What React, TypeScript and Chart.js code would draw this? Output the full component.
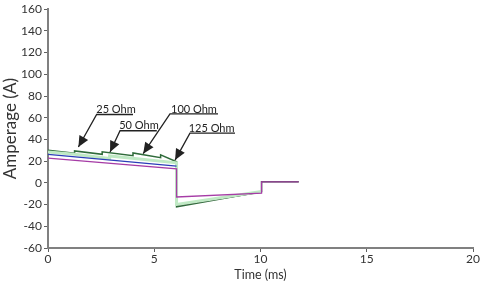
import React, { useEffect, useRef } from "react";
import { Chart, registerables } from "chart.js";

Chart.register(...registerables);

// Series (time in ms, current in A)
const ohm125T = [0, 1.25, 1.25, 2.55, 2.55, 4.0, 4.0, 5.3, 5.3, 6.05, 6.05, 10.05, 10.05, 11.8];
const ohm125A = [30, 27.2, 29.4, 26.3, 28.6, 25.0, 27.6, 23.2, 25.8, 19.5, -22, -8, 1, 1];

const paleT = [0, 1.25, 2.9, 2.9, 6.05, 6.05, 10.05];
const paleA = [28.5, 26.3, 22.5, 24.8, 18.5, -20, -8];

const blueT = [0, 6.05];
const blueA = [26.3, 15.5];

const magentaT = [0, 6.05, 6.05, 10.05, 10.05, 11.8];
const magentaA = [22.8, 13, -13, -9.5, 1, 1];

const blackT = [6.05, 6.05, 10.05];
const blackA = [18.5, -21, -8.5];

// Annotation labels: text, text position, underline range, arrow tip
const labels = ["25 Ohm", "50 Ohm", "100 Ohm", "125 Ohm"];
const labelT = [3.2, 4.28, 6.87, 7.7];
const labelA = [67.4, 53, 68, 50.3];
const lineStartT = [2.29, 3.39, 5.74, 6.68];
const lineEndT = [4.0, 5.12, 8.0, 8.8];
const lineA = [63, 48, 63.6, 45.8];
const tipT = [1.43, 2.92, 4.48, 5.98];
const tipA = [33, 28.4, 26.9, 21];

const xTicks = [0, 5, 10, 15, 20];

const pts = (t: number[], a: number[]) => t.map((x, i) => ({ x, y: a[i] }));

const FONT = "Lato, 'Open Sans', sans-serif";

const annotPlugin = {
  id: "annot",
  afterDatasetsDraw(chart: any) {
    const { ctx, scales } = chart;
    const xs = scales.x;
    const ys = scales.y;
    ctx.save();
    ctx.fillStyle = "#222";
    ctx.strokeStyle = "#222";
    ctx.lineWidth = 1.3;
    ctx.font = `11px ${FONT}`;
    ctx.textAlign = "center";
    ctx.textBaseline = "middle";
    labels.forEach((txt, i) => {
      ctx.fillText(txt, xs.getPixelForValue(labelT[i]), ys.getPixelForValue(labelA[i]));
      const ly = ys.getPixelForValue(lineA[i]);
      const x0 = xs.getPixelForValue(lineStartT[i]);
      const x1 = xs.getPixelForValue(lineEndT[i]);
      ctx.beginPath();
      ctx.moveTo(x1, ly);
      ctx.lineTo(x0, ly);
      const tx = xs.getPixelForValue(tipT[i]);
      const ty = ys.getPixelForValue(tipA[i]);
      ctx.lineTo(tx, ty);
      ctx.stroke();
      // arrow head
      const ang = Math.atan2(ty - ly, tx - x0);
      const len = 11;
      const w = 5;
      const bx = tx - len * Math.cos(ang);
      const by = ty - len * Math.sin(ang);
      ctx.beginPath();
      ctx.moveTo(tx, ty);
      ctx.lineTo(bx + w * Math.sin(ang), by - w * Math.cos(ang));
      ctx.lineTo(bx - w * Math.sin(ang), by + w * Math.cos(ang));
      ctx.closePath();
      ctx.fill();
    });
    ctx.restore();
  },
};

export default function App() {
  const ref = useRef<HTMLCanvasElement>(null);
  useEffect(() => {
    if (!ref.current) return;
    const ds = (t: number[], a: number[], color: string, width: number) => ({
      data: pts(t, a),
      borderColor: color,
      backgroundColor: color,
      borderWidth: width,
      pointRadius: 0,
      tension: 0,
      fill: false,
    });
    const chart = new Chart(ref.current, {
      type: "line",
      data: {
        datasets: [
          ds(magentaT, magentaA, "#a63ca6", 1.3),
          ds(blueT, blueA, "#2b3db8", 1.3),
          ds(paleT, paleA, "#bfe9c4", 3),
          ds(blackT, blackA, "#222222", 1.2),
          ds(ohm125T, ohm125A, "#2f6b3a", 1.5),
        ],
      },
      options: {
        animation: false,
        responsive: false,
        events: [],
        layout: { padding: { top: 4, right: 8, left: 0, bottom: 0 } },
        plugins: { legend: { display: false }, tooltip: { enabled: false } },
        scales: {
          x: {
            type: "linear",
            min: 0,
            max: 20,
            afterBuildTicks: (s: any) => {
              s.ticks = xTicks.map((v) => ({ value: v }));
            },
            afterFit: (s: any) => {
              s.height = 34;
            },
            border: { color: "#808080", width: 2 },
            grid: { drawOnChartArea: false, tickLength: 4, color: "#606060", lineWidth: 1 },
            ticks: { color: "#333", font: { family: FONT, size: 12 }, padding: 0, maxRotation: 0 },
            title: {
              display: true,
              text: "Time (ms)",
              color: "#333",
              font: { family: FONT, size: 12.5 },
              padding: { top: 0, bottom: 0 },
            },
          },
          y: {
            type: "linear",
            min: -60,
            max: 160,
            afterFit: (s: any) => {
              s.width = 48;
            },
            border: { color: "#808080", width: 2 },
            grid: { drawOnChartArea: false, tickLength: 4, color: "#606060", lineWidth: 1 },
            ticks: { stepSize: 20, color: "#333", font: { family: FONT, size: 12 }, padding: 2 },
            title: {
              display: true,
              text: "Amperage (A)",
              color: "#333",
              font: { family: FONT, size: 17 },
              padding: { top: 0, bottom: 0 },
            },
          },
        },
      },
      plugins: [annotPlugin],
    } as any);
    return () => chart.destroy();
  }, []);
  return (
    <div style={{ position: "fixed", left: 0, top: 0, width: 481, height: 282, background: "#fff" }}>
      <canvas ref={ref} width={481} height={282} style={{ width: 481, height: 282 }} />
    </div>
  );
}
